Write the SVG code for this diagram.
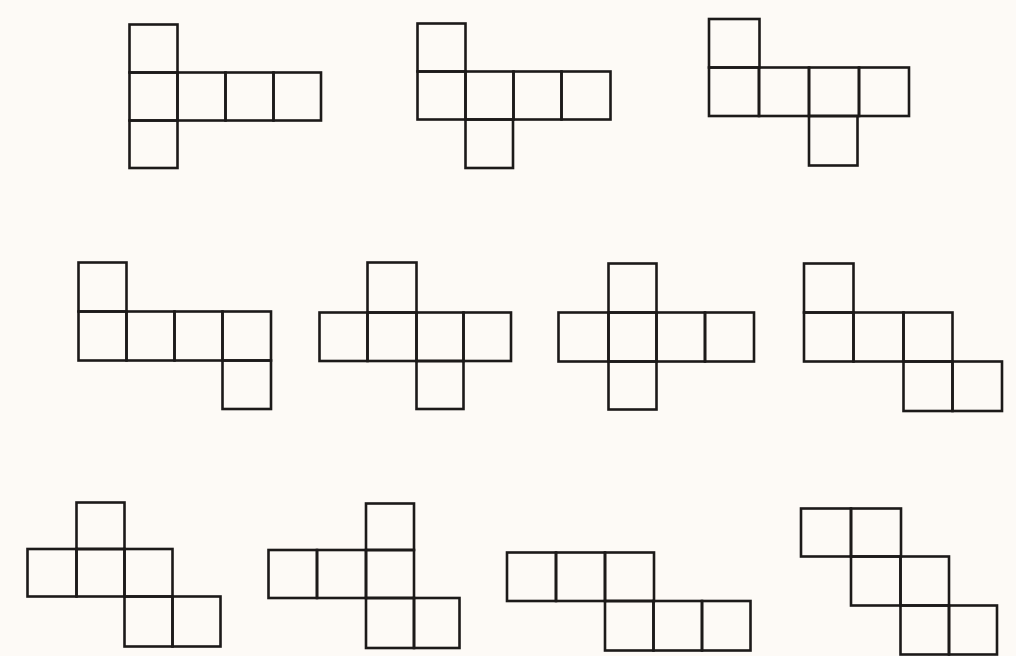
<svg xmlns="http://www.w3.org/2000/svg" width="1016" height="656" viewBox="0 0 1016 656">
<style>
.c{fill:none;stroke:#1c1a19;stroke-width:2.6;stroke-linejoin:miter}
</style>
<rect x="0" y="0" width="1016" height="656" fill="#fdfaf6"/>
<g id="net1">
<rect class="c" x="129.5" y="24.5" width="48" height="48"/>
<rect class="c" x="129.5" y="72.5" width="48" height="48"/>
<rect class="c" x="177.5" y="72.5" width="48" height="48"/>
<rect class="c" x="225.5" y="72.5" width="48" height="48"/>
<rect class="c" x="273.5" y="72.5" width="47.5" height="48"/>
<rect class="c" x="129.5" y="120.5" width="48" height="47.5"/>
</g>
<g id="net2">
<rect class="c" x="417.5" y="23.5" width="48" height="48"/>
<rect class="c" x="417.5" y="71.5" width="48" height="48"/>
<rect class="c" x="465.5" y="71.5" width="48" height="48"/>
<rect class="c" x="513.5" y="71.5" width="48" height="48"/>
<rect class="c" x="561.5" y="71.5" width="49" height="48"/>
<rect class="c" x="465.5" y="119.5" width="47.5" height="48.5"/>
</g>
<g id="net3">
<rect class="c" x="709" y="19" width="50.5" height="48.5"/>
<rect class="c" x="709" y="67.5" width="50" height="48.5"/>
<rect class="c" x="759" y="67.5" width="50" height="48.5"/>
<rect class="c" x="809" y="67.5" width="50" height="48.5"/>
<rect class="c" x="859" y="67.5" width="50" height="48.5"/>
<rect class="c" x="809" y="116" width="48.5" height="49.5"/>
</g>
<g id="net4">
<rect class="c" x="78.5" y="262.5" width="48" height="49"/>
<rect class="c" x="78.5" y="311.5" width="48" height="49"/>
<rect class="c" x="126.5" y="311.5" width="48" height="49"/>
<rect class="c" x="174.5" y="311.5" width="48" height="49"/>
<rect class="c" x="222.5" y="311.5" width="48.5" height="49"/>
<rect class="c" x="222.5" y="360.5" width="48.5" height="48.5"/>
</g>
<g id="net5">
<rect class="c" x="367.5" y="262.5" width="49" height="50"/>
<rect class="c" x="319.5" y="312.5" width="48" height="48.5"/>
<rect class="c" x="367.5" y="312.5" width="49" height="48.5"/>
<rect class="c" x="416.5" y="312.5" width="47" height="48.5"/>
<rect class="c" x="463.5" y="312.5" width="47.5" height="48.5"/>
<rect class="c" x="416.5" y="361" width="47" height="48"/>
</g>
<g id="net6">
<rect class="c" x="608.5" y="263.5" width="48" height="49"/>
<rect class="c" x="558.5" y="312.5" width="50" height="49"/>
<rect class="c" x="608.5" y="312.5" width="48" height="49"/>
<rect class="c" x="656.5" y="312.5" width="48.5" height="49"/>
<rect class="c" x="705" y="312.5" width="49" height="49"/>
<rect class="c" x="608.5" y="361.5" width="48" height="48"/>
</g>
<g id="net7">
<rect class="c" x="804" y="263.5" width="49.5" height="49"/>
<rect class="c" x="804" y="312.5" width="49.5" height="49"/>
<rect class="c" x="853.5" y="312.5" width="50" height="49"/>
<rect class="c" x="903.5" y="312.5" width="49" height="49"/>
<rect class="c" x="903.5" y="361.5" width="49" height="49.5"/>
<rect class="c" x="952.5" y="361.5" width="49.5" height="49.5"/>
</g>
<g id="net8">
<rect class="c" x="76.5" y="502.5" width="48" height="46.5"/>
<rect class="c" x="27.5" y="549" width="49" height="47.5"/>
<rect class="c" x="76.5" y="549" width="48" height="47.5"/>
<rect class="c" x="124.5" y="549" width="48" height="47.5"/>
<rect class="c" x="124.5" y="596.5" width="48" height="50"/>
<rect class="c" x="172.5" y="596.5" width="48" height="50"/>
</g>
<g id="net9">
<rect class="c" x="366" y="503.5" width="48" height="46.5"/>
<rect class="c" x="268.5" y="550" width="48.5" height="48"/>
<rect class="c" x="317" y="550" width="49" height="48"/>
<rect class="c" x="366" y="550" width="48" height="48"/>
<rect class="c" x="366" y="598" width="48" height="50"/>
<rect class="c" x="414" y="598" width="45.5" height="50"/>
</g>
<g id="net10">
<rect class="c" x="507" y="552.5" width="49" height="48.5"/>
<rect class="c" x="556" y="552.5" width="49" height="48.5"/>
<rect class="c" x="605" y="552.5" width="49" height="48.5"/>
<rect class="c" x="605" y="601" width="48.5" height="49.5"/>
<rect class="c" x="653.5" y="601" width="48.5" height="49.5"/>
<rect class="c" x="702" y="601" width="48.5" height="49.5"/>
</g>
<g id="net11">
<rect class="c" x="801" y="508.5" width="50" height="48"/>
<rect class="c" x="851" y="508.5" width="50" height="48"/>
<rect class="c" x="851" y="556.5" width="49.5" height="49"/>
<rect class="c" x="900.5" y="556.5" width="48.5" height="49"/>
<rect class="c" x="900.5" y="605.5" width="48.5" height="49"/>
<rect class="c" x="949" y="605.5" width="48" height="49"/>
</g>
</svg>
